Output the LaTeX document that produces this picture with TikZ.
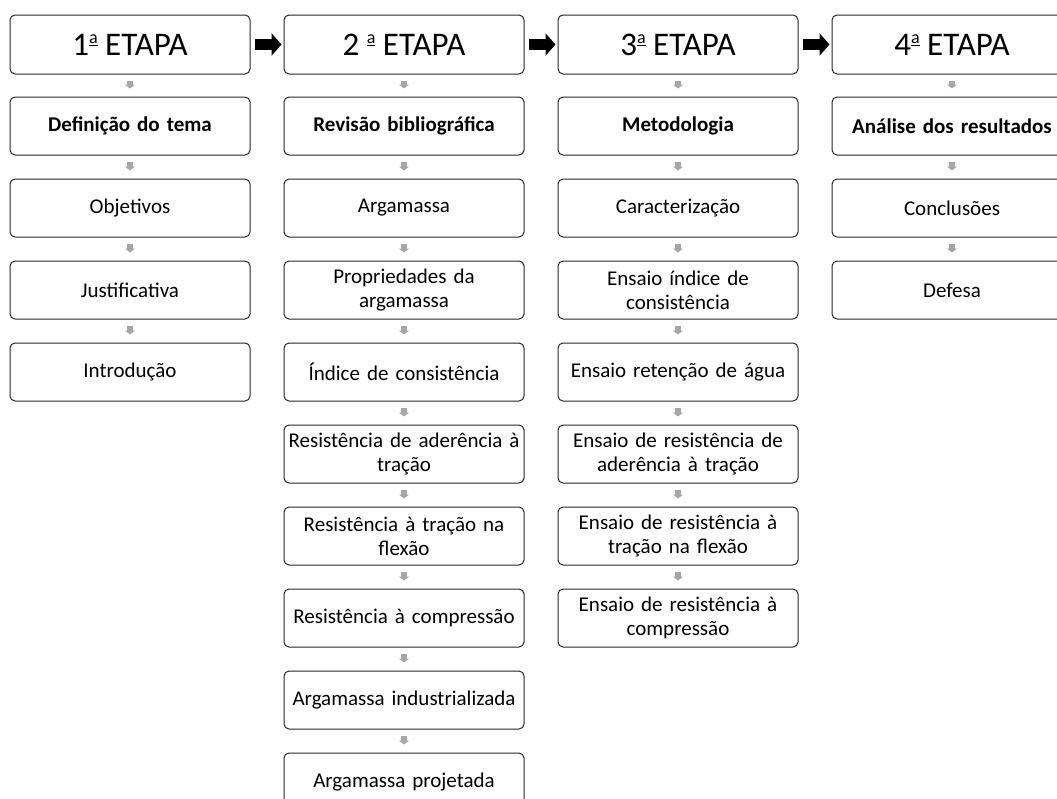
\documentclass[tikz,border=0pt]{standalone}
\usepackage{fontspec}
\setmainfont{Carlito}
\usetikzlibrary{positioning,arrows.meta}
\newcommand{\ordem}{\raisebox{.36em}{\fontsize{18}{18}\selectfont\underline{a}}}
\tikzset{etapa/.style={draw=black!85,line width=1pt,rectangle,rounded corners=5pt,minimum width=240pt,minimum height=59pt,font=\fontsize{33}{38}\selectfont},item/.style={draw=black!85,line width=1pt,rectangle,rounded corners=5pt,text width=236pt,inner sep=2pt,minimum height=58pt,align=center,font=\fontsize{21}{24}\selectfont},seta/.style={line width=11pt,-{Triangle[width=22pt,length=10pt]},shorten <=4pt,shorten >=2pt},passo/.style={gray!70,line width=6pt,-{Triangle[width=10pt,length=4pt]},shorten <=6pt,shorten >=8pt}}

\begin{document}
\begin{tikzpicture}
\useasboundingbox (0,0) rectangle (1057pt,-798pt);
% etapas
\node[etapa] (h1) at (130pt,-44.5pt) {1\ordem\ ETAPA};
\node[etapa,right=33pt of h1] (h2) {2 \ordem\ ETAPA};
\node[etapa,right=33pt of h2] (h3) {3\ordem\ ETAPA};
\node[etapa,right=33pt of h3] (h4) {4\ordem\ ETAPA};
\draw[seta] (h1)--(h2);\draw[seta] (h2)--(h3);\draw[seta] (h3)--(h4);
% 1a etapa
\node[item,below=22pt of h1] (a1) {\textbf{Definição do tema}};
\node[item,below=23pt of a1] (a2) {Objetivos};
\node[item,below=23pt of a2] (a3) {Justificativa};
\node[item,below=23pt of a3] (a4) {Introdução};
\draw[passo] (h1)--(a1);\draw[passo] (a1)--(a2);\draw[passo] (a2)--(a3);\draw[passo] (a3)--(a4);
% 2a etapa
\node[item,below=22pt of h2] (b1) {\textbf{Revisão bibliográfica}};
\node[item,below=23pt of b1] (b2) {Argamassa};
\node[item,below=23pt of b2] (b3) {Propriedades da\\argamassa};
\node[item,below=23pt of b3] (b4) {Índice de consistência};
\node[item,below=23pt of b4] (b5) {Resistência de aderência à\\tração};
\node[item,below=23pt of b5] (b6) {Resistência à tração na\\flexão};
\node[item,below=23pt of b6] (b7) {Resistência à compressão};
\node[item,below=23pt of b7] (b8) {Argamassa industrializada};
\node[item,below=23pt of b8] (b9) {Argamassa projetada};
\draw[passo] (h2)--(b1);
\foreach \i/\j in {1/2,2/3,3/4,4/5,5/6,6/7,7/8,8/9}{\draw[passo] (b\i)--(b\j);}
% 3a etapa
\node[item,below=22pt of h3] (c1) {\textbf{Metodologia}};
\node[item,below=23pt of c1] (c2) {Caracterização};
\node[item,below=23pt of c2] (c3) {Ensaio índice de\\consistência};
\node[item,below=23pt of c3] (c4) {Ensaio retenção de água};
\node[item,below=23pt of c4] (c5) {Ensaio de resistência de\\aderência à tração};
\node[item,below=23pt of c5] (c6) {Ensaio de resistência à\\tração na flexão};
\node[item,below=23pt of c6] (c7) {Ensaio de resistência à\\compressão};
\draw[passo] (h3)--(c1);
\foreach \i/\j in {1/2,2/3,3/4,4/5,5/6,6/7}{\draw[passo] (c\i)--(c\j);}
% 4a etapa
\node[item,below=22pt of h4] (d1) {\textbf{Análise dos resultados}};
\node[item,below=23pt of d1] (d2) {Conclusões};
\node[item,below=23pt of d2] (d3) {Defesa};
\draw[passo] (h4)--(d1);\draw[passo] (d1)--(d2);\draw[passo] (d2)--(d3);
\end{tikzpicture}
\end{document}
